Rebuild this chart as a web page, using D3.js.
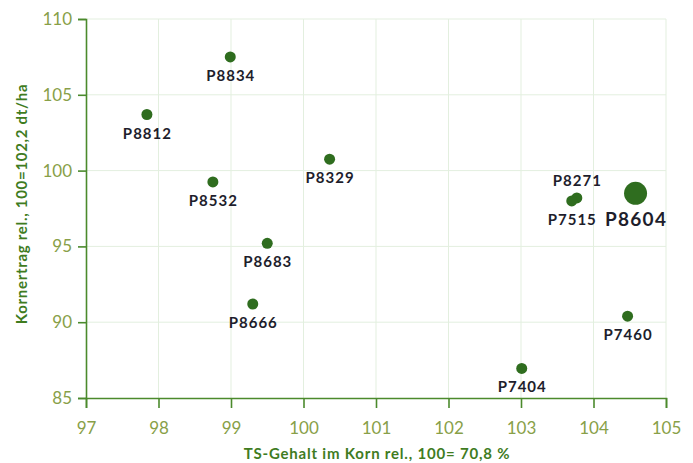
<!DOCTYPE html>
<html>
<head>
<meta charset="utf-8">
<title>Kornertrag vs TS-Gehalt</title>
<script src="https://d3js.org/d3.v7.min.js"></script>
<style>
  body { margin: 0; background: #fff; }
  text { font-family: Lato, "Noto Sans", sans-serif; }
</style>
</head>
<body>
<script>
// Sorten und Werte
var sorten = ['P8834', 'P8812', 'P8329', 'P8532', 'P8683', 'P8666', 'P7404', 'P7460', 'P8271', 'P7515', 'P8604'];
var tsGehalt = [98.99, 97.84, 100.36, 98.75, 99.50, 99.30, 103.01, 104.47, 103.77, 103.70, 104.58];
var ertrag = [107.5, 103.7, 100.75, 99.25, 95.2, 91.2, 86.95, 90.4, 98.2, 98.0, 98.5];
var xTicks = [97, 98, 99, 100, 101, 102, 103, 104, 105];
var yTicks = [85, 90, 95, 100, 105, 110];
var highlight = 'P8604';

var W = 693, H = 463;
var m = {left: 86, right: 27, top: 19, bottom: 65};

var svg = d3.select('body').append('svg')
  .attr('width', W)
  .attr('height', H);

var x = d3.scaleLinear().domain([97, 105]).range([m.left, W - m.right]);
var y = d3.scaleLinear().domain([85, 110]).range([H - m.bottom, m.top]);

var green = '#2f6d1f', axisGreen = '#4b8a2c', tickCol = '#88a048';

// gitter
svg.append('g').selectAll('line').data(xTicks.slice(1)).join('line')
  .attr('x1', d => x(d)).attr('x2', d => x(d))
  .attr('y1', y(85)).attr('y2', y(110))
  .attr('stroke', '#e3efdf').attr('stroke-width', 1);
svg.append('g').selectAll('line').data(yTicks.slice(1)).join('line')
  .attr('x1', x(97)).attr('x2', x(105))
  .attr('y1', d => y(d)).attr('y2', d => y(d))
  .attr('stroke', '#e3efdf').attr('stroke-width', 1);

// achsen
var xAxis = svg.append('g')
  .attr('transform', 'translate(0,' + y(85) + ')')
  .call(d3.axisBottom(x).tickValues(xTicks).tickSize(10).tickPadding(14).tickFormat(d3.format('d')));
var yAxis = svg.append('g')
  .attr('transform', 'translate(' + x(97) + ',0)')
  .call(d3.axisLeft(y).tickValues(yTicks).tickSize(8).tickPadding(6).tickFormat(d3.format('d')));

[xAxis, yAxis].forEach(function(a) {
  a.select('.domain').attr('stroke', axisGreen).attr('stroke-width', 1.6);
  a.selectAll('.tick line').attr('stroke', axisGreen).attr('stroke-width', 1.6);
  a.selectAll('.tick text')
    .attr('fill', tickCol)
    .style('font-size', '17px')
    .style('font-family', 'Lato, sans-serif');
});

// achsentitel
svg.append('text')
  .attr('x', 377).attr('y', 459)
  .attr('text-anchor', 'middle')
  .attr('fill', '#3f7c1f')
  .style('font-size', '15px').style('font-weight', 'bold')
  .style('letter-spacing', '0.8px')
  .text('TS-Gehalt im Korn rel., 100= 70,8 %');

svg.append('text')
  .attr('transform', 'translate(27,204) rotate(-90)')
  .attr('text-anchor', 'middle')
  .attr('fill', '#3f7c1f')
  .style('font-size', '15px').style('font-weight', 'bold')
  .style('letter-spacing', '0.7px')
  .text('Kornertrag rel., 100=102,2 dt/ha');

// punkte
var pts = sorten.map((s, i) => ({name: s, x: tsGehalt[i], y: ertrag[i]}));

svg.append('g').selectAll('circle').data(pts).join('circle')
  .attr('cx', d => x(d.x))
  .attr('cy', d => y(d.y))
  .attr('r', d => d.name === highlight ? 11.5 : 5.5)
  .attr('fill', green);

// beschriftung
svg.append('g').selectAll('text').data(pts).join('text')
  .attr('x', d => x(d.x) + 0.5)
  .attr('y', d => {
    if (d.name === 'P8271') return y(d.y) - 12;
    if (d.name === highlight) return y(d.y) + 33;
    return y(d.y) + 24;
  })
  .attr('text-anchor', 'middle')
  .attr('fill', '#1e1e2c')
  .style('font-size', d => d.name === highlight ? '19px' : '15px')
  .style('font-weight', 'bold')
  .style('letter-spacing', d => d.name === highlight ? '1.3px' : '1px')
  .text(d => d.name);
</script>
</body>
</html>
